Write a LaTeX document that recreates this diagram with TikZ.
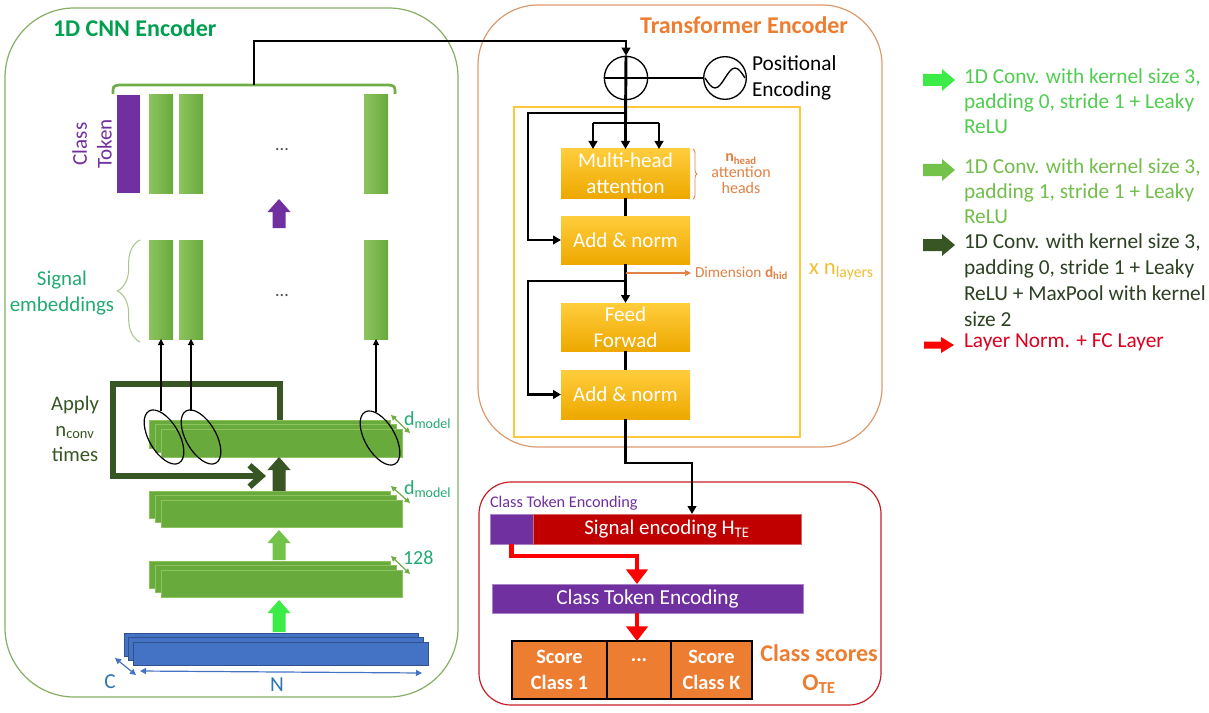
\documentclass[tikz,border=0pt]{standalone}
\usepackage{fontspec}
\setmainfont{Carlito}
\usetikzlibrary{arrows.meta,shapes.geometric,fit,calc,decorations.pathreplacing}
\definecolor{cnnborder}{RGB}{135,175,100}
\definecolor{cnntitle}{RGB}{0,160,80}
\definecolor{sigtxt}{RGB}{35,170,115}
\definecolor{barg}{RGB}{105,170,60}
\definecolor{barglight}{RGB}{140,195,95}
\definecolor{bracegreen}{RGB}{112,173,71}
\definecolor{bracelight}{RGB}{170,200,140}
\definecolor{dkgreen}{RGB}{56,86,35}
\definecolor{brgreen}{RGB}{60,235,70}
\definecolor{mdgreen}{RGB}{115,195,75}
\definecolor{tokpurple}{RGB}{112,48,160}
\definecolor{inblue}{RGB}{68,114,196}
\definecolor{inblueedge}{RGB}{47,82,143}
\definecolor{bluetxt}{RGB}{46,117,182}
\definecolor{trborder}{RGB}{220,155,110}
\definecolor{trtitle}{RGB}{237,125,49}
\definecolor{yellowbox}{RGB}{255,200,60}
\definecolor{ylight}{RGB}{255,205,60}
\definecolor{ydark}{RGB}{238,168,0}
\definecolor{orangetxt}{RGB}{225,130,70}
\definecolor{layertxt}{RGB}{242,190,50}
\definecolor{redborder}{RGB}{200,30,40}
\definecolor{darkred}{RGB}{192,0,0}
\definecolor{scoreor}{RGB}{237,125,49}
\definecolor{legred}{RGB}{220,0,30}
\definecolor{legone}{RGB}{80,205,80}
\definecolor{legtwo}{RGB}{115,190,75}
\definecolor{legthree}{RGB}{45,65,35}
\newcommand\fsz[2]{\fontsize{#1}{#2}\selectfont}
% up block arrow: center x, bottom y, tip y, colour
\newcommand\blockup[4]{\fill[#4] (#1-6.5,#2) -- (#1-6.5,#3+13) -- (#1-11.5,#3+13) -- (#1,#3) -- (#1+11.5,#3+13) -- (#1+6.5,#3+13) -- (#1+6.5,#2) -- cycle;}
% right block arrow: tail x, tip x, center y, colour, shaft half, head half
\newcommand\blockright[6]{\fill[#4] (#1,#3-#5) -- (#2-13,#3-#5) -- (#2-13,#3-#6) -- (#2,#3) -- (#2-13,#3+#6) -- (#2-13,#3+#5) -- (#1,#3+#5) -- cycle;}
% stack of three layers
\newcommand\layerstack[6]{%
  \node[#6, fit={(#2,#3)(#4-12,#5-9)}] (#1a) {};
  \node[#6, fit={(#2+6,#3+4.5)(#4-6,#5-4.5)}] (#1b) {};
  \node[#6, fit={(#2+12,#3+9)(#4,#5)}] (#1c) {};}
\tikzset{
  box/.style={inner sep=0pt, outer sep=0pt},
  txt/.style={inner sep=0pt, outer sep=0pt},
  intext/.style={txt, align=center, text=white},
  gbar/.style={box, left color=barglight, right color=barg, draw=none},
  glayer/.style={box, fill=barg, draw=barglight, line width=0.5pt},
  blayer/.style={box, fill=inblue, draw=inblueedge, line width=0.6pt},
  ybox/.style={box, top color=ylight, bottom color=ydark},
  boxfont/.style={font=\fsz{15.8}{19.5}},
  conn/.style={line width=2.2pt, black},
  arr/.style={-{Triangle[length=6pt,width=6.5pt]}},
  thinarr/.style={line width=0.8pt, -{Triangle[length=4.5pt,width=4.5pt]}},
  lgarr/.style={bracegreen, line width=0.9pt, {Triangle[length=4pt,width=4pt]}-{Triangle[length=4pt,width=4pt]}},
  bluearr/.style={inblue, line width=0.9pt, {Triangle[length=4.5pt,width=4.5pt]}-{Triangle[length=4.5pt,width=4.5pt]}},
  redarr/.style={red, line width=3.6pt, -{Triangle[length=11pt,width=16pt]}},
  tilted/.style={draw, ellipse, line width=0.9pt, minimum width=22.5pt, minimum height=45pt, inner sep=0pt, rotate=30},
  scorebox/.style={box, fill=scoreor, draw=black, line width=0.8pt},
  scoretext/.style={intext, font=\fsz{15.3}{20}\bfseries},
  legfont/.style={txt, anchor=north west, align=left, font=\fsz{16}{18.75}},
  every node/.style={font=\fsz{13.5}{16}}
}
\begin{document}
\begin{tikzpicture}[x=0.75pt,y=-0.75pt]
\useasboundingbox (0,0) rectangle (1209,713);
\fill[white] (0,0) rectangle (1209,713);

% ---------- panels ----------
\node[box, draw=cnnborder, line width=0.9pt, rounded corners=52pt, fit={(5,8)(458,697)}] (cnn) {};
\node[box, draw=trborder, line width=0.9pt, rounded corners=45pt, fit={(478,5)(882,447)}] (trans) {};
\node[box, draw=redborder, line width=0.9pt, rounded corners=24pt, fit={(479,482)(881,705)}] (outp) {};
\node[box, draw=yellowbox, line width=0.8pt, fit={(514,107)(800,437)}] (layerbox) {};

\node[txt, anchor=west, text=cnntitle, font=\fsz{18}{20}\bfseries] (cnntitle) at (53,28) {1D CNN Encoder};
\node[txt, anchor=east, text=trtitle, font=\fsz{18}{20}\bfseries] (trtitle) at (848,25) {Transformer Encoder};

% ---------- CNN encoder ----------
\node[box, fill=tokpurple, fit={(117,95)(140,193)}] (cls) {};
\node[gbar, fit={(149,95)(173,193)}] (t1) {};
\node[gbar, fit={(179,95)(203,193)}] (t2) {};
\node[gbar, fit={(364,95)(388,193)}] (tn) {};
\node[txt, text=black!70] (dots1) at (282,150) {...};
\node[txt, rotate=90, align=center, text=tokpurple, font=\fsz{15.8}{18.5}] (cttext) at (92,144) {Class\\Token};
\draw[bracegreen, line width=2pt] (113,94) .. controls (113,86) .. (119,85) -- (389,85) .. controls (395,86) .. (395,94);
\coordinate (bracetop) at (254,85);

\blockup{279}{228}{199}{tokpurple}

\node[gbar, fit={(149,240)(173,339)}] (s1) {};
\node[gbar, fit={(179,240)(203,339)}] (s2) {};
\node[gbar, fit={(364,240)(388,339)}] (sn) {};
\node[txt, text=black!70] (dots2) at (282,296) {...};
\draw[bracelight, line width=0.8pt, decorate, decoration={brace, amplitude=17pt}] (140,342) -- (140,240);
\node[txt, align=center, text=sigtxt, font=\fsz{15.7}{19.5}] (sigemb) at (62,293) {Signal\\embeddings};

% loop
\coordinate (loopA) at (280,422);
\coordinate (loopB) at (266,476);
\draw[dkgreen, line width=4.5pt, -{Straight Barb[length=9pt,width=16pt]}] (loopA) -- (280,384) -- (113,384) -- (113,476) -- (loopB);
\node[txt, align=center, text=dkgreen, font=\fsz{15.5}{19}] (apply) at (75,429) {Apply\\n\textsubscript{conv}\\times};

\layerstack{st}{149}{420}{402}{457}{glayer}
\layerstack{sm}{149}{491}{402}{527}{glayer}
\layerstack{sl}{149}{561}{402}{597}{glayer}

\node[tilted] (e1) at (164,437) {};
\node[tilted] (e2) at (201,437) {};
\node[tilted] (e3) at (380,438) {};
\draw[thinarr] (s1.south |- e1.north) -- (s1.south);
\draw[thinarr] (s2.south |- e2.north) -- (s2.south);
\draw[thinarr] (sn.south |- e3.north) -- (sn.south);

\blockup{279}{491}{457}{dkgreen}
\blockup{279}{560}{530}{mdgreen}
\blockup{279}{632}{600}{brgreen}

\draw[lgarr] (391,415) -- (410,433);
\node[txt, anchor=west, text=sigtxt, font=\fsz{15}{16}] (dm1) at (404,420) {d\textsubscript{model}};
\draw[lgarr] (391,486) -- (410,503);
\node[txt, anchor=west, text=sigtxt, font=\fsz{15}{16}] (dm2) at (404,489) {d\textsubscript{model}};
\draw[lgarr] (391,556) -- (410,574);
\node[txt, anchor=west, text=sigtxt, font=\fsz{15}{16}] (d128) at (403,558) {128};

\node[blayer, fit={(124,633)(418,656)}] (in1) {};
\node[blayer, fit={(128.5,637.5)(423,660.5)}] (in2) {};
\node[blayer, fit={(133,642)(428,665)}] (in3) {};
\draw[bluearr] (115,658) -- (136,675);
\node[txt, text=bluetxt, font=\fsz{16}{18}] (clab) at (110,682) {C};
\draw[bluearr] (140,671) -- (422,673);
\node[txt, text=bluetxt, font=\fsz{16}{18}] (nlab) at (277,685) {N};

% ---------- Transformer ----------
\node[draw, circle, line width=1pt, minimum size=32.5pt, inner sep=0pt] (plus) at (626,78) {};
\node[draw, circle, line width=1pt, minimum size=32pt, inner sep=0pt] (pe) at (725,78) {};
\draw[line width=1pt] ($(pe.center)+(-20,0)$) sin ++(10,10) cos ++(10,-10) sin ++(10,-10) cos ++(10,10);
\node[txt, anchor=west, align=left, font=\fsz{16}{19.5}] (petext) at (752,78) {Positional\\Encoding};

\node[ybox, fit={(561,149)(690,198)}] (mha) {};
\node[intext, boxfont] (mhatext) at (mha.center) {Multi-head\\attention};
\node[ybox, fit={(561,216)(690,264)}] (an1) {};
\node[intext, boxfont] (an1text) at (an1.center) {Add \& norm};
\node[ybox, fit={(561,303)(690,351)}] (ff) {};
\node[intext, boxfont] (fftext) at (ff.center) {Feed\\Forwad};
\node[ybox, fit={(561,370)(690,419)}] (an2) {};
\node[intext, boxfont] (an2text) at (an2.center) {Add \& norm};

\draw[conn,arr] (bracetop) -- (254,41) -| (plus.north);
\draw[conn] (plus.west) -- (pe.west);
\coordinate (br1) at (625.5,113);
\coordinate (br2) at (625.5,123);
\coordinate (h1) at (593,123);
\coordinate (h3) at (659,123);
\draw[conn] (plus.north) -- (br2);
\draw[conn] (h1) -- (h3);
\draw[conn,arr] (h1) -- (h1 |- mha.north);
\draw[conn,arr] (br2) -- (mha.north);
\draw[conn,arr] (h3) -- (h3 |- mha.north);
\draw[conn,arr] (br1) -| ($(an1.west)+(-33,0)$) -- (an1.west);
\draw[conn] (mha.south) -- (an1.north);
\draw[conn,arr] (an1.south) -- (ff.north);
\coordinate (br3) at (625.5,281);
\draw[conn,arr] (br3) -| ($(an2.west)+(-33,0)$) -- (an2.west);
\draw[conn] (ff.south) -- (an2.north);

\node[txt, anchor=west, text=orangetxt, font=\fsz{11.5}{13}] (dimtext) at (695,273) {Dimension \textbf{d\textsubscript{hid}}};
\draw[orangetxt, line width=0.8pt, shorten >=3pt, -{Triangle[length=4.5pt,width=4.5pt]}] (an1.south |- dimtext.west) -- (dimtext.west);
\draw[orangetxt, line width=0.6pt, decorate, decoration={brace, amplitude=3pt}] (693,149) -- (693,199);
\node[txt, align=center, text=orangetxt, font=\fsz{12}{12}] (nhead) at (741,174) {\textbf{n\textsubscript{head}}\\attention\\heads};
\node[txt, anchor=west, text=layertxt, font=\fsz{17}{18}] (nlay) at (809,272) {x n\textsubscript{layers}};

% ---------- Output ----------
\node[txt, anchor=west, text=tokpurple, font=\fsz{12.2}{13}] (ctlabel) at (490,503) {Class Token Enconding};
\node[box, fill=tokpurple, draw=tokpurple!60, line width=0.5pt, fit={(490,514)(533,544)}] (ctsq) {};
\node[box, fill=darkred, draw=darkred!60, line width=0.5pt, fit={(533,514)(801,544)}] (se) {};
\node[intext, font=\fsz{15.7}{16}] (setext) at (se.center) {Signal encoding H\textsubscript{TE}};
\coordinate (outc) at (692,463);
\draw[conn,arr] (an2.south) |- (outc) -- (outc |- se.north);

\node[box, fill=tokpurple, draw=tokpurple!60, line width=0.5pt, fit={(492,584)(803,613)}] (cte) {};
\node[intext, font=\fsz{16}{16}] (ctetext) at (cte.center) {Class Token Encoding};
\coordinate (rc) at (637,556);
\draw[redarr] (ctsq.south) |- (rc) -- (rc |- cte.north);

\node[scorebox, fit={(512,641)(607,699)}] (sc1) {};
\node[scoretext] (sc1text) at (sc1.center) {Score\\Class 1};
\node[scorebox, fit={(607,641)(671,699)}] (sc2) {};
\node[scoretext] (sc2text) at ($(sc2.center)+(0,-10)$) {...};
\node[scorebox, fit={(671,641)(752,699)}] (sc3) {};
\node[scoretext] (sc3text) at (sc3.center) {Score\\Class K};
\draw[redarr] (rc |- cte.south) -- (rc |- sc1.north);
\node[txt, align=center, text=scoreor, font=\fsz{18}{22}\bfseries] (cstext) at (819,669) {Class scores\\O\textsubscript{TE}};

% ---------- Legend ----------
\blockright{923}{955}{80}{brgreen}{6}{11}
\node[legfont, text=legone] (legA) at (964,69) {1D Conv. with kernel size 3,\\padding 0, stride 1 + Leaky\\ReLU};
\blockright{923}{955}{170}{mdgreen}{6}{11}
\node[legfont, text=legtwo] (legB) at (964,159) {1D Conv. with kernel size 3,\\padding 1, stride 1 + Leaky\\ReLU};
\blockright{923}{955}{245}{dkgreen}{6}{11}
\node[legfont, text=legthree, font=\fsz{16}{19.5}] (legC) at (964,234) {1D Conv. with kernel size 3,\\padding 0, stride 1 + Leaky\\ReLU + MaxPool with kernel\\size 2};
\blockright{924}{954}{345}{red}{3.5}{8}
\node[legfont, text=legred] (legD) at (964,334) {Layer Norm. + FC Layer};
\end{tikzpicture}
\end{document}
